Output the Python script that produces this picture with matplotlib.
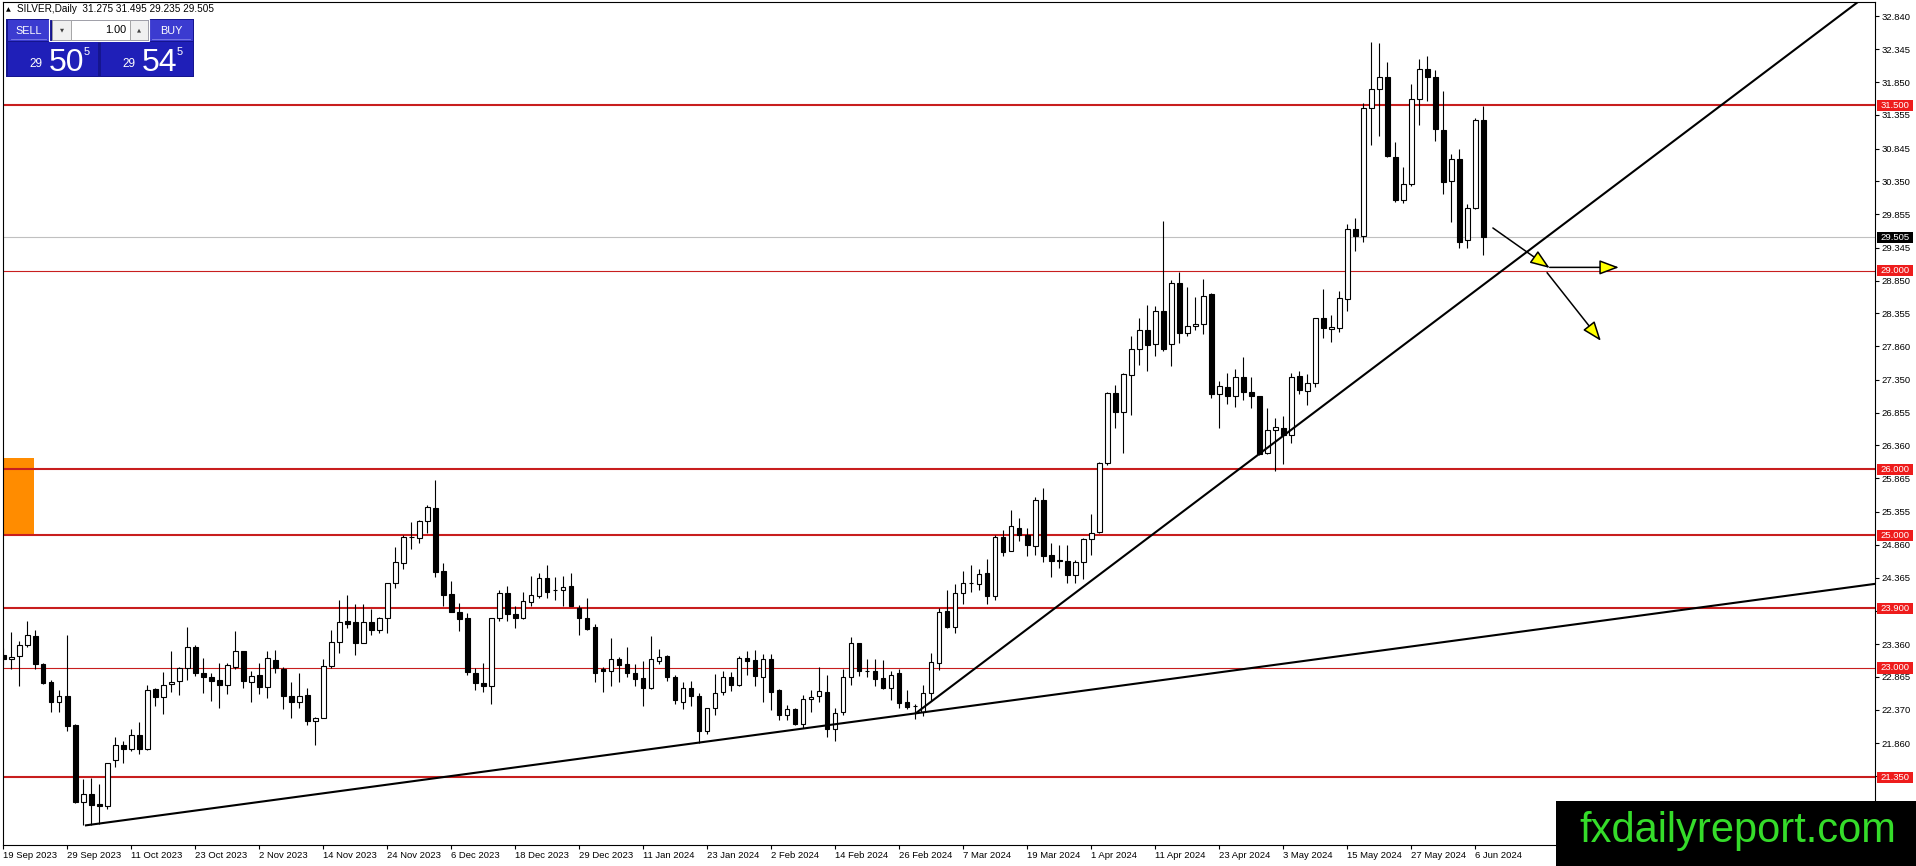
import numpy as np
import matplotlib
matplotlib.use("Agg")
import matplotlib.pyplot as plt
from matplotlib.patches import Rectangle, FancyArrowPatch

plt.rcParams['font.family'] = ['Liberation Sans', 'DejaVu Sans']

# daily OHLC, SILVER, 19 Sep 2023 .. 7 Jun 2024
opens = [23.195, 23.13, 23.175, 23.346, 23.487, 23.06, 22.79, 22.49, 22.58, 22.14,
         20.97, 21.10, 20.945, 20.91, 21.61, 21.84, 21.775, 21.99, 21.77, 22.68,
         22.56, 22.76, 22.80, 23.00, 23.32, 22.92, 22.86, 22.81, 22.74, 23.01,
         23.25, 22.79, 22.90, 22.71, 23.12, 22.98, 22.58, 22.49, 22.59, 22.20,
         22.25, 23.03, 23.39, 23.71, 23.69, 23.37, 23.69, 23.58, 23.76, 24.28,
         24.58, 24.97, 24.96, 25.22, 25.41, 24.46, 24.11, 23.84, 23.76, 22.92,
         22.77, 22.72, 23.75, 24.13, 23.81, 23.75, 23.99, 24.09, 24.36, 24.18,
         24.18, 24.23, 23.91, 23.75, 23.62, 22.98, 22.95, 23.13, 23.06, 22.92,
         22.84, 22.70, 23.11, 23.18, 22.87, 22.49, 22.69, 22.58, 22.04, 22.39,
         22.63, 22.86, 22.74, 23.15, 23.12, 22.87, 23.13, 22.67, 22.29, 22.38,
         22.16, 22.53, 22.57, 22.63, 22.07, 22.33, 22.87, 23.37, 22.96, 22.96,
         22.84, 22.69, 22.92, 22.49, 22.42, 22.34, 22.62, 23.08, 23.86, 23.62,
         24.13, 24.28, 24.27, 24.44, 24.09, 24.98, 24.77, 25.12, 25.00, 24.84,
         25.53, 24.71, 24.63, 24.62, 24.41, 24.60, 24.95, 25.05, 26.09, 27.15,
         26.87, 27.43, 27.81, 28.10, 27.89, 28.39, 27.89, 28.82, 28.06, 28.17,
         28.19, 28.65, 27.14, 27.25, 27.11, 27.39, 27.16, 27.10, 26.24, 26.60,
         26.63, 26.52, 27.41, 27.18, 27.30, 28.29, 28.12, 28.14, 28.57, 29.63,
         29.53, 31.45, 31.75, 31.93, 30.72, 30.07, 30.31, 31.59, 32.05, 31.92,
         31.12, 30.36, 30.68, 29.47, 29.94, 31.275]
highs = [23.30, 23.54, 23.41, 23.71, 23.58, 23.08, 22.81, 22.67, 23.49, 22.15,
         21.32, 21.34, 21.25, 21.57, 21.95, 21.90, 22.08, 22.18, 22.74, 22.69,
         22.94, 23.26, 23.02, 23.62, 23.34, 23.15, 22.93, 23.07, 23.07, 23.55,
         23.26, 22.96, 23.07, 23.25, 23.27, 23.01, 22.78, 22.93, 22.69, 22.26,
         23.13, 23.57, 24.03, 24.10, 23.96, 23.96, 23.89, 23.77, 24.29, 24.82,
         25.01, 25.21, 25.23, 25.46, 25.84, 24.58, 24.31, 23.98, 23.83, 23.00,
         23.08, 23.76, 24.18, 24.24, 23.93, 24.14, 24.39, 24.44, 24.55, 24.37,
         24.39, 24.44, 23.95, 24.05, 23.67, 23.02, 23.45, 23.16, 23.31, 23.06,
         23.10, 23.48, 23.28, 23.20, 22.90, 22.79, 22.80, 22.62, 22.40, 22.91,
         22.96, 22.94, 23.18, 23.26, 23.27, 23.21, 23.21, 22.68, 22.44, 22.39,
         22.59, 22.66, 23.02, 22.90, 22.40, 22.98, 23.47, 23.38, 23.14, 23.14,
         23.12, 22.96, 22.98, 22.67, 22.46, 22.74, 23.23, 23.90, 24.18, 24.26,
         24.47, 24.56, 24.49, 24.64, 25.01, 25.09, 25.39, 25.26, 25.11, 25.58,
         25.72, 24.89, 24.85, 24.85, 24.63, 24.96, 25.33, 26.11, 27.17, 27.28,
         27.45, 28.02, 28.28, 28.48, 28.46, 29.75, 28.86, 28.98, 28.75, 28.60,
         28.88, 28.66, 27.34, 27.45, 27.51, 27.69, 27.40, 27.11, 26.92, 26.78,
         26.80, 27.45, 27.49, 27.44, 28.29, 28.72, 28.33, 28.70, 29.70, 29.79,
         31.54, 32.45, 32.44, 32.15, 30.94, 30.56, 31.82, 32.19, 32.25, 32.03,
         31.72, 30.76, 30.84, 30.00, 31.30, 31.495]
lows = [23.05, 22.98, 22.73, 23.31, 22.98, 22.76, 22.33, 22.33, 22.04, 20.96,
        20.62, 20.62, 20.64, 20.87, 21.51, 21.57, 21.74, 21.70, 21.76, 22.42,
        22.31, 22.63, 22.59, 22.81, 22.88, 22.62, 22.50, 22.39, 22.60, 22.99,
        22.69, 22.48, 22.61, 22.55, 22.93, 22.38, 22.24, 22.40, 22.14, 21.84,
        22.25, 23.00, 23.23, 23.61, 23.20, 23.37, 23.50, 23.53, 23.52, 24.21,
        24.50, 24.80, 24.88, 25.04, 24.37, 23.93, 23.84, 23.55, 22.89, 22.67,
        22.63, 22.46, 23.71, 23.71, 23.61, 23.74, 23.93, 24.05, 24.05, 24.02,
        23.93, 23.93, 23.49, 23.57, 22.79, 22.64, 22.73, 22.78, 22.86, 22.73,
        22.43, 22.68, 23.06, 22.80, 22.46, 22.38, 22.42, 21.87, 22.00, 22.29,
        22.59, 22.65, 22.73, 22.90, 22.73, 22.48, 22.36, 22.21, 22.21, 22.14,
        22.09, 22.33, 22.48, 21.95, 21.89, 22.29, 22.74, 22.88, 22.87, 22.72,
        22.68, 22.51, 22.39, 22.38, 22.23, 22.28, 22.50, 22.97, 23.60, 23.52,
        23.97, 24.15, 24.18, 23.97, 24.03, 24.69, 24.77, 24.91, 24.69, 24.71,
        24.60, 24.37, 24.51, 24.28, 24.28, 24.34, 24.70, 25.04, 26.07, 26.63,
        26.25, 26.82, 27.57, 27.49, 27.71, 27.78, 27.56, 27.91, 28.02, 28.10,
        28.04, 27.07, 26.63, 26.98, 26.94, 27.04, 26.92, 26.21, 26.23, 25.98,
        26.08, 26.39, 27.13, 26.97, 27.25, 27.99, 27.92, 28.07, 28.39, 29.30,
        29.43, 30.90, 31.04, 30.71, 30.04, 30.02, 30.28, 31.20, 31.57, 30.96,
        30.16, 29.74, 29.35, 29.35, 29.93, 29.235]
closes = [23.13, 23.17, 23.346, 23.497, 23.06, 22.77, 22.48, 22.57, 22.12, 20.97,
          21.10, 20.93, 20.91, 21.56, 21.84, 21.775, 21.99, 21.775, 22.66, 22.56,
          22.74, 22.78, 23.00, 23.31, 22.92, 22.86, 22.80, 22.74, 23.04, 23.25,
          22.80, 22.88, 22.71, 23.15, 23.00, 22.57, 22.48, 22.58, 22.20, 22.25,
          23.03, 23.39, 23.69, 23.67, 23.38, 23.69, 23.58, 23.76, 24.28, 24.60,
          24.97, 24.98, 25.22, 25.43, 24.45, 24.10, 23.85, 23.74, 22.94, 22.77,
          22.72, 23.76, 24.13, 23.81, 23.76, 24.01, 24.10, 24.36, 24.14, 24.17,
          24.22, 23.93, 23.75, 23.59, 22.93, 22.95, 23.13, 23.05, 22.92, 22.83,
          22.70, 23.13, 23.16, 22.87, 22.51, 22.69, 22.57, 22.04, 22.39, 22.62,
          22.86, 22.74, 23.15, 23.10, 22.88, 23.13, 22.64, 22.29, 22.38, 22.16,
          22.53, 22.56, 22.65, 22.07, 22.32, 22.87, 23.37, 22.95, 22.95, 22.83,
          22.69, 22.90, 22.47, 22.41, 22.42, 22.62, 23.09, 23.85, 23.62, 24.13,
          24.28, 24.28, 24.42, 24.09, 24.98, 24.75, 25.15, 25.01, 24.86, 25.54,
          24.69, 24.62, 24.62, 24.41, 24.60, 24.94, 25.04, 26.09, 27.15, 26.86,
          27.44, 27.81, 28.10, 27.88, 28.39, 27.82, 28.82, 28.06, 28.17, 28.19,
          28.62, 27.14, 27.26, 27.11, 27.40, 27.17, 27.10, 26.23, 26.60, 26.64,
          26.52, 27.40, 27.20, 27.30, 28.29, 28.13, 28.15, 28.58, 29.63, 29.53,
          31.45, 31.75, 31.93, 30.73, 30.07, 30.31, 31.60, 32.05, 31.92, 31.14,
          30.34, 30.68, 29.44, 29.95, 31.28, 29.505]

date_labels = ["19 Sep 2023", "29 Sep 2023", "11 Oct 2023", "23 Oct 2023", "2 Nov 2023",
               "14 Nov 2023", "24 Nov 2023", "6 Dec 2023", "18 Dec 2023", "29 Dec 2023",
               "11 Jan 2024", "23 Jan 2024", "2 Feb 2024", "14 Feb 2024", "26 Feb 2024",
               "7 Mar 2024", "19 Mar 2024", "1 Apr 2024", "11 Apr 2024", "23 Apr 2024",
               "3 May 2024", "15 May 2024", "27 May 2024", "6 Jun 2024"]
date_bars = list(range(0, 8 * len(date_labels), 8))

price_ticks = [32.840, 32.345, 31.850, 31.355, 30.845, 30.350, 29.855, 29.345, 28.850,
               28.355, 27.860, 27.350, 26.855, 26.360, 25.865, 25.355, 24.860, 24.365,
               23.860, 23.360, 22.865, 22.370, 21.860, 21.365, 20.870]

# horizontal levels drawn on the chart
levels = [31.5, 29.0, 26.0, 25.0, 23.9, 23.0, 21.35]
level_thick = [True, False, True, True, True, False, True]
bid = 29.505

# trendlines (bar, price)
trend_low = [(10.2, 20.62), (234.0, 24.27)]
trend_steep = [(114.0, 22.31), (245.0, 34.26)]

# orange zone at the left edge
zone_bar_end = 3.8
zone_bottom, zone_top = 25.0, 26.17

# yellow arrows (bar, price)
arrows = [((186.2, 29.645), (193.3, 29.04)),
          ((193.3, 29.05), (201.95, 29.05)),
          ((192.97, 28.97), (199.7, 27.94))]

W, H = 1916, 866
fig = plt.figure(figsize=(W / 100, H / 100), dpi=100)
fig.patch.set_facecolor("white")
L_PX, R_PX, T_PX, B_PX = 2.7, 1875, 1.7, 845
ax = fig.add_axes([L_PX / W, (H - B_PX) / H, (R_PX - L_PX) / W, (B_PX - T_PX) / H])
ax.set_xlim((L_PX - 3.3) / 8, (R_PX - 3.3) / 8)
ax.set_ylim(20.325, 33.063)

for s in ax.spines.values():
    s.set_linewidth(0.8)
    s.set_color("black")

o = np.array(opens); h = np.array(highs); l = np.array(lows); c = np.array(closes)
idx = np.arange(len(o))

# orange zone
ax.add_patch(Rectangle((ax.get_xlim()[0], zone_bottom), zone_bar_end - ax.get_xlim()[0],
                       zone_top - zone_bottom, facecolor="#ff8c00", edgecolor="none", zorder=1))

# levels
for p, thick in zip(levels, level_thick):
    ax.axhline(p, color="#c81e1e", lw=1.5 if thick else 0.8, zorder=2)
ax.axhline(bid, color="#c0c0c0", lw=0.8, zorder=2)

# candles
ax.vlines(idx, l, h, color="black", lw=0.8, zorder=3)
up = c >= o
ax.bar(idx, np.abs(c - o), bottom=np.minimum(o, c), width=0.55,
       color=np.where(up, "white", "black"), edgecolor="black", linewidth=0.8, zorder=4)

# trendlines
for line in (trend_low, trend_steep):
    xs, ys = zip(*line)
    ax.plot(xs, ys, color="black", lw=1.5, zorder=5, solid_capstyle="butt")

# arrows
for a, b in arrows:
    ax.add_patch(FancyArrowPatch(a, b, arrowstyle="-|>,head_length=12,head_width=4.5",
                                 mutation_scale=1, lw=1.1, edgecolor="black",
                                 facecolor="#ffff00", shrinkA=0, shrinkB=0, zorder=6))

# axes ticks
ax.yaxis.tick_right()
ax.set_yticks(price_ticks)
ax.set_yticklabels([f"{v:.3f}" for v in price_ticks])
ax.set_xticks(date_bars)
ax.set_xticklabels(date_labels, ha="left")
ax.tick_params(axis="both", direction="out", length=3, width=0.8, labelsize=6.8, pad=1.5,
               colors="black")

# price tags on the right axis
ax_w_px = R_PX - L_PX
tag_w = 36 / ax_w_px
tag_h = 5.6 / 66.2
tags = [(p, "#ee1c1c") for p in levels] + [(bid, "black")]
for p, col in tags:
    ax.add_patch(Rectangle((1.001, p - tag_h), tag_w, 2 * tag_h, transform=ax.get_yaxis_transform(),
                           facecolor=col, edgecolor="none", clip_on=False, zorder=7))
    ax.text(1.001 + tag_w / 2, p, f"{p:.3f}", transform=ax.get_yaxis_transform(),
            ha="center", va="center", color="white", fontsize=6.8, zorder=8, clip_on=False)

# overlay in pixel coordinates: header, one-click panel, watermark
ov = fig.add_axes([0, 0, 1, 1], zorder=10)
ov.set_xlim(0, W)
ov.set_ylim(H, 0)
ov.axis("off")
ov.patch.set_visible(False)

ov.text(6, 9.5, "\u25B2", fontsize=4.5, ha="left", va="center", color="black", family="DejaVu Sans")
ov.text(17, 9.5, "SILVER,Daily  31.275 31.495 29.235 29.505", fontsize=7.2,
        ha="left", va="center", color="black")

blue_btn = "#3b3bd0"
blue_box = "#1f1fb8"
ov.add_patch(Rectangle((6, 19), 188, 58, facecolor="#15158f", edgecolor="none"))
ov.add_patch(Rectangle((8, 20), 41, 21, facecolor=blue_btn, edgecolor="none"))
ov.add_patch(Rectangle((149, 20), 44, 21, facecolor=blue_btn, edgecolor="none"))
ov.plot([11, 46], [39, 39], color="#8080e8", lw=0.6)
ov.plot([152, 190], [39, 39], color="#8080e8", lw=0.6)
ov.add_patch(Rectangle((52, 20), 19, 20, facecolor="#f0f0f0", edgecolor="#a0a0a0", lw=0.6))
ov.add_patch(Rectangle((71, 20), 59, 20, facecolor="white", edgecolor="#a0a0a0", lw=0.6))
ov.add_patch(Rectangle((130, 20), 18, 20, facecolor="#f0f0f0", edgecolor="#a0a0a0", lw=0.6))
ov.add_patch(Rectangle((49, 19), 100, 22, facecolor="none", edgecolor="white", lw=0.8))
ov.text(28.5, 30.5, "SELL", fontsize=7.8, color="white", ha="center", va="center")
ov.text(171, 30.5, "BUY", fontsize=7.8, color="white", ha="center", va="center")
ov.text(61.5, 30, "\u25BC", fontsize=3.8, color="#404040", ha="center", va="center",
        family="DejaVu Sans")
ov.text(139, 30, "\u25B2", fontsize=3.8, color="#404040", ha="center", va="center",
        family="DejaVu Sans")
ov.text(126, 30, "1.00", fontsize=7.8, color="black", ha="right", va="center")
ov.add_patch(Rectangle((8, 42), 90, 34, facecolor=blue_box, edgecolor="none"))
ov.add_patch(Rectangle((101, 42), 92, 34, facecolor=blue_box, edgecolor="none"))
for x0, big in ((29, "50"), (122, "54")):
    ov.text(x0, 67, "29", fontsize=8.5, color="white", ha="left", va="baseline")
    ov.text(x0 + 20, 71, big, fontsize=23, color="white", ha="left", va="baseline")
    ov.text(x0 + 55, 55, "5", fontsize=8, color="white", ha="left", va="baseline")

ov.add_patch(Rectangle((1556, 801), W - 1556, H - 801, facecolor="black", edgecolor="none"))
ov.text(1738, 831, "fxdailyreport.com", fontsize=30, color="#35dc2a", ha="center",
        va="center", family="Liberation Sans")

fig.savefig("out.png", dpi=100)
